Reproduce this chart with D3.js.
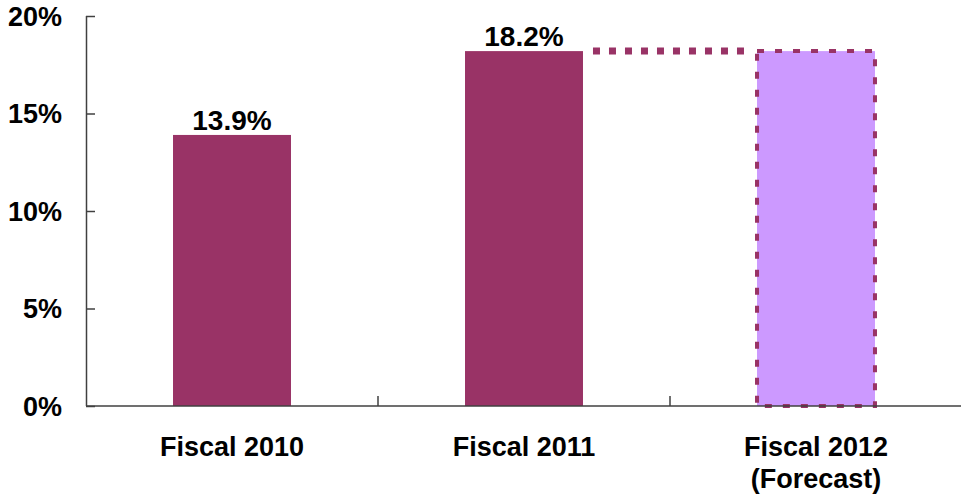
<!DOCTYPE html>
<html>
<head>
<meta charset="utf-8">
<script src="https://cdn.jsdelivr.net/npm/d3@7"></script>
<style>
  html, body { margin: 0; padding: 0; background: #fff; }
  svg { display: block; }
  text { font-family: "Liberation Sans", Arial, sans-serif; font-weight: bold; fill: #000; }
</style>
</head>
<body>
<svg id="chart" width="961" height="496"></svg>
<script>
// Categories and values (percent)
const categories = ["Fiscal 2010", "Fiscal 2011", "Fiscal 2012"];
const categorySubLabels = ["", "", "(Forecast)"];
const values = [13.9, 18.2, 18.2];
const isForecast = [false, false, true];
const valueLabels = ["13.9%", "18.2%", ""];
const yTicks = [0, 5, 10, 15, 20];

const svg = d3.select("#chart");
const plotLeft = 86, plotRight = 962, plotTop = 16, plotBottom = 406;

const x = d3.scaleBand().domain(categories).range([plotLeft, plotRight])
  .paddingInner(0.596).paddingOuter(0.298);
const xBoundary = d3.scaleBand().domain(categories).range([plotLeft, plotRight]).padding(0);
const y = d3.scaleLinear().domain([0, 20]).range([plotBottom, plotTop]);

const barColor = "#993366";
const forecastFill = "#CC99FF";
const axisColor = "#404040";

// Bars
categories.forEach((c, i) => {
  const r = svg.append("rect")
    .attr("x", x(c))
    .attr("y", y(values[i]))
    .attr("width", x.bandwidth())
    .attr("height", y(0) - y(values[i]));
  if (isForecast[i]) {
    r.attr("fill", forecastFill)
      .attr("stroke", barColor)
      .attr("stroke-width", 4)
      .attr("stroke-dasharray", "7,11");
  } else {
    r.attr("fill", barColor);
  }
});

// Dotted connector from the last actual bar to the forecast bar
const iPrev = 1, iFc = 2;
svg.append("line")
  .attr("x1", x(categories[iPrev]) + x.bandwidth() + 10)
  .attr("x2", x(categories[iFc]) - 12)
  .attr("y1", y(values[iPrev]))
  .attr("y2", y(values[iPrev]))
  .attr("stroke", barColor)
  .attr("stroke-width", 7)
  .attr("stroke-dasharray", "7,9");

// Value labels
categories.forEach((c, i) => {
  if (!valueLabels[i]) return;
  svg.append("text")
    .attr("x", x(c) + x.bandwidth() / 2)
    .attr("y", y(values[i]) - 5)
    .attr("text-anchor", "middle")
    .attr("font-size", 28)
    .text(valueLabels[i]);
});

// Y axis
const yAxis = svg.append("g").attr("transform", `translate(${plotLeft},0)`)
  .call(d3.axisRight(y).tickValues(yTicks).tickSize(9).tickFormat(""));
yAxis.select(".domain").attr("d", `M0.5,${plotTop}V${plotBottom}`);
yAxis.selectAll("path, line").attr("stroke", axisColor).attr("stroke-width", 1.5);
yTicks.forEach(t => {
  svg.append("text")
    .attr("x", 62)
    .attr("y", y(t))
    .attr("dy", "0.36em")
    .attr("text-anchor", "end")
    .attr("font-size", 27)
    .text(t + "%");
});

// X axis with category boundary ticks
svg.append("line")
  .attr("x1", plotLeft).attr("x2", plotRight)
  .attr("y1", plotBottom).attr("y2", plotBottom)
  .attr("stroke", axisColor).attr("stroke-width", 1.5);
categories.forEach(c => {
  const bx = Math.round(xBoundary(c) + xBoundary.bandwidth());
  svg.append("line")
    .attr("x1", bx).attr("x2", bx)
    .attr("y1", plotBottom).attr("y2", plotBottom - 10)
    .attr("stroke", axisColor).attr("stroke-width", 1.5);
});

// Category labels
categories.forEach((c, i) => {
  const cx = xBoundary(c) + xBoundary.bandwidth() / 2;
  svg.append("text")
    .attr("x", cx).attr("y", 456)
    .attr("text-anchor", "middle")
    .attr("font-size", 27)
    .text(c);
  if (categorySubLabels[i]) {
    svg.append("text")
      .attr("x", cx).attr("y", 488)
      .attr("text-anchor", "middle")
      .attr("font-size", 27)
      .text(categorySubLabels[i]);
  }
});
</script>
</body>
</html>
